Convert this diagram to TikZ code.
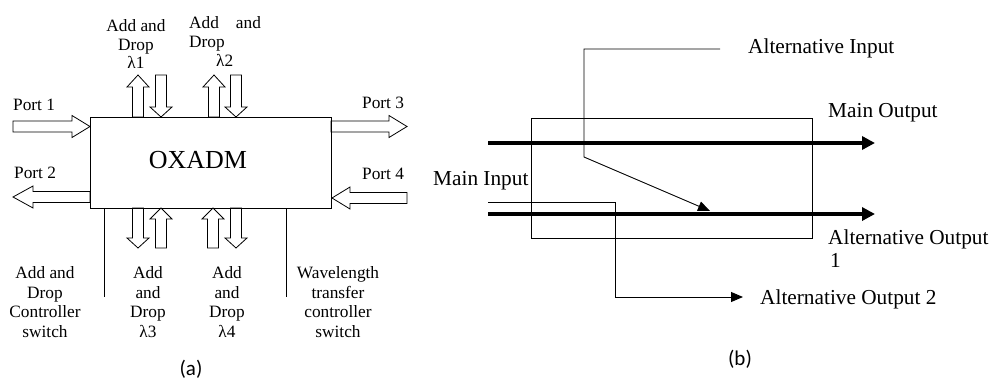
\documentclass[tikz,border=0pt]{standalone}
\usepackage{fontspec}
\setmainfont{Liberation Serif}
\newfontfamily\capfont{Carlito}
\usetikzlibrary{arrows.meta}
\newcommand\harrowshape[4]{\draw[hol] (#1,#4-5.5) -- (#2,#4-5.5) -- (#2,#4-11) -- (#3,#4) -- (#2,#4+11) -- (#2,#4+5.5) -- (#1,#4+5.5) -- cycle;}
\newcommand\varrowshape[4]{\draw[hol] (#4-5.5,#1) -- (#4-5.5,#2) -- (#4-11,#2) -- (#4,#3) -- (#4+11,#2) -- (#4+5.5,#2) -- (#4+5.5,#1) -- cycle;}
\begin{document}
\begin{tikzpicture}[x=1pt,y=-1pt,
  hol/.style={draw, line width=0.8pt, fill=white, line join=miter},
  thinline/.style={line width=0.9pt},
  lf/.style={font=\fontsize{17.3}{19.5}\selectfont, inner sep=0pt},
  rf/.style={font=\fontsize{21.3}{23}\selectfont, inner sep=0pt},
  capt/.style={font=\capfont\fontsize{21}{23}\selectfont, inner sep=0pt},
  thickarrow/.style={line width=4.5pt, -{Triangle[length=13pt,width=13pt]}},
  thinarrow/.style={line width=0.9pt, -{Triangle[length=12pt,width=10pt]}}]
\useasboundingbox (0,0) rectangle (993,381);

% ---------- (a) ----------
\harrowshape{13}{72}{90}{126.5}
\harrowshape{331}{389}{407}{126.5}
\harrowshape{90}{33}{13}{197}
\harrowshape{407}{350}{332}{198}
\varrowshape{117}{87}{75}{138}
\varrowshape{75}{107}{117}{161}
\varrowshape{117}{87}{75}{214}
\varrowshape{75}{107}{117}{236}
\varrowshape{208}{238}{248}{138}
\varrowshape{248}{219}{208}{161}
\varrowshape{248}{219}{208}{213}
\varrowshape{208}{238}{248}{236}

\node[draw, thinline, minimum width=241pt, minimum height=91pt, inner sep=0pt] (ox) at (210.5,162.5) {};
\node[font=\fontsize{26}{28}\selectfont, inner sep=0pt] (oxl) at (198,160) {OXADM};

\coordinate (v1) at (104,297);
\coordinate (v2) at (286,297);
\draw[thinline] (ox.south -| v1) -- (v1);
\draw[thinline] (ox.south -| v2) -- (v2);

\node[lf, anchor=base west] (p1) at (13,110) {Port 1};
\node[lf, anchor=base west] (p3) at (362,108) {Port 3};
\node[lf, anchor=base west] (p2) at (14,178) {Port 2};
\node[lf, anchor=base west] (p4) at (362,179) {Port 4};

\node[lf, align=center, font=\fontsize{17.3}{18.5}\selectfont] (l1) at (136,44) {Add and\\Drop\\λ1};
\node[lf, align=left, anchor=west, font=\fontsize{17.3}{19}\selectfont] (l2) at (189,41) {Add\hspace{17pt}and\\Drop\\\hspace{27pt}λ2};

\node[lf, align=center] (b1) at (45,302) {Add and\\Drop\\Controller\\switch};
\node[lf, align=center] (b2) at (148,302) {Add\\and\\Drop\\λ3};
\node[lf, align=center] (b3) at (227,302) {Add\\and\\Drop\\λ4};
\node[lf, align=center] (b4) at (338,302) {Wavelength\\transfer\\controller\\switch};

\node[capt] (ca) at (191,369) {(a)};

% ---------- (b) ----------
\node[draw, thinline, minimum width=281pt, minimum height=120pt, inner sep=0pt] (sw) at (671.5,178) {};

\coordinate (mi) at (488,143);
\coordinate (mo) at (875,143);
\draw[thickarrow] (mi) -- (mo);
\coordinate (ai) at (488,214);
\coordinate (ao) at (875,214);
\draw[thickarrow] (ai) -- (ao);

\coordinate (aiS) at (720,49);
\coordinate (aiC) at (584,49);
\coordinate (aiD) at (584,157);
\coordinate (aiT) at (710,211);
\draw[thinarrow] (aiS) -- (aiC) -- (aiD) -- (aiT);

\coordinate (miS) at (488,202);
\coordinate (miC) at (615,202);
\coordinate (miD) at (615,297);
\coordinate (miT) at (743,297);
\draw[thinarrow] (miS) -- (miC) -- (miD) -- (miT);

\node[rf, anchor=base west] (tai) at (748,53) {Alternative Input};
\node[rf, anchor=base west] (tmo) at (828,117) {Main Output};
\node[rf, anchor=base west] (tmi) at (433,185) {Main Input};
\node[rf, anchor=base west] (tao1) at (828,244) {Alternative Output};
\node[rf, anchor=base west] (tao1b) at (830,267) {1};
\node[rf, anchor=base west] (tao2) at (760,304) {Alternative Output 2};

\node[capt] (cb) at (740,359) {(b)};
\end{tikzpicture}
\end{document}
